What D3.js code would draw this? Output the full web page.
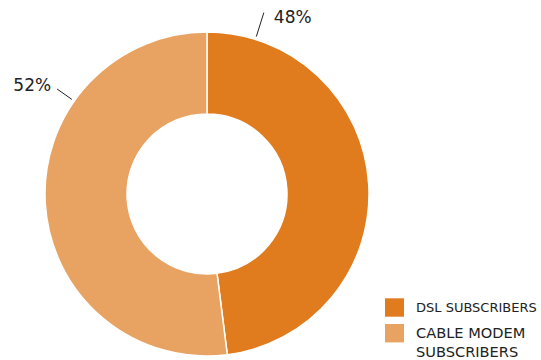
<!DOCTYPE html>
<html>
<head>
<meta charset="utf-8">
<script src="https://cdn.jsdelivr.net/npm/d3@7"></script>
<style>
  html, body { margin: 0; padding: 0; background: #fff; }
  svg { display: block; }
  text { font-family: "DejaVu Sans", "Noto Sans", sans-serif; fill: #222; }
</style>
</head>
<body>
<svg id="chart" width="541" height="360"></svg>
<script>
// Broadband subscriber share
const categories = ["DSL SUBSCRIBERS", "CABLE MODEM SUBSCRIBERS"];
const shares = [48, 52];
const legendLines = [["DSL SUBSCRIBERS"], ["CABLE MODEM", "SUBSCRIBERS"]];
const colors = ["#E07B1E", "#E8A262"];

const W = 541, H = 360;
const cx = 207, cy = 194;
const outerR = 162, innerR = 80;

const svg = d3.select("#chart");
const g = svg.append("g").attr("transform", `translate(${cx},${cy})`);

const pie = d3.pie().sort(null).value(d => d)(shares);
const arc = d3.arc().innerRadius(innerR).outerRadius(outerR);
const color = d3.scaleOrdinal().domain(categories).range(colors);

g.selectAll("path.slice")
  .data(pie)
  .join("path")
  .attr("class", "slice")
  .attr("d", arc)
  .attr("fill", (d, i) => color(categories[i]))
  .attr("stroke", "#fff")
  .attr("stroke-width", 1.5);

// Leader lines and percentage labels, placed at a chosen angle on each ring
const labelAngle = [17.4, 305].map(a => a * Math.PI / 180);
const labelAnchor = ["start", "end"];
const labelDx = [10, -6];
const labelDy = [10.5, 1.7];
const lineIn = 165, lineOut = [190, 183];

const pt = (a, r) => [r * Math.sin(a), -r * Math.cos(a)];

pie.forEach((d, i) => {
  const a = labelAngle[i];
  const p0 = pt(a, lineIn), p1 = pt(a, lineOut[i]);
  g.append("line")
    .attr("x1", p0[0]).attr("y1", p0[1])
    .attr("x2", p1[0]).attr("y2", p1[1])
    .attr("stroke", "#222").attr("stroke-width", 1);
  g.append("text")
    .attr("x", p1[0] + labelDx[i])
    .attr("y", p1[1] + labelDy[i])
    .attr("text-anchor", labelAnchor[i])
    .attr("font-size", 17)
    .text(d3.format(".0f")(d.data) + "%");
});

// Legend; a line too long for the space left is set a little smaller
const legendX = 385, textX = 31, maxRight = W - 4, legendFont = 14.6;
const room = maxRight - legendX - textX;
const legend = svg.append("g").attr("transform", `translate(${legendX},298.3)`);
categories.forEach((c, i) => {
  const row = legend.append("g").attr("transform", `translate(0,${i * 25.7})`);
  row.append("rect")
    .attr("width", 19).attr("height", 18.4)
    .attr("fill", color(c));
  legendLines[i].forEach((line, j) => {
    const t = row.append("text")
      .attr("x", textX).attr("y", 14.2 + j * 18.4)
      .attr("font-size", legendFont)
      .text(line);
    const w = t.node().getComputedTextLength();
    if (w > room) t.attr("font-size", Math.floor(legendFont * room / w * 10) / 10);
  });
});
</script>
</body>
</html>
